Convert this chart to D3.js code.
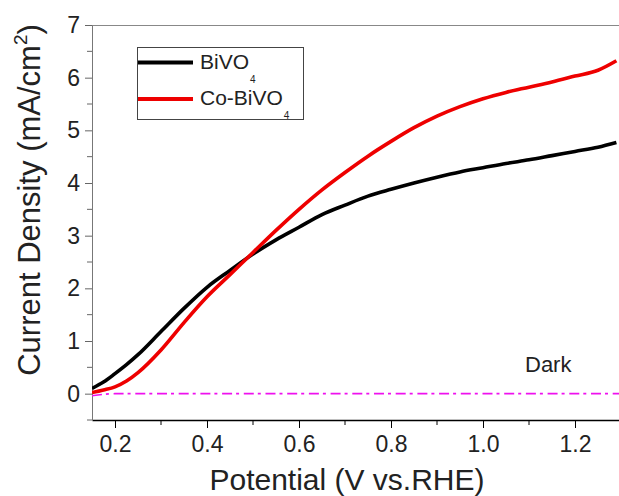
<!DOCTYPE html>
<html>
<head>
<meta charset="utf-8">
<script src="https://cdnjs.cloudflare.com/ajax/libs/d3/7.9.0/d3.min.js"></script>
<style>
  html, body { margin: 0; padding: 0; background: #fff; }
  svg { display: block; font-family: 'Liberation Sans', Arial, sans-serif; }
</style>
</head>
<body>
<svg id="chart" width="619" height="496"></svg>
<script>
// potential (V vs. RHE)
const potential = [0.15, 0.175, 0.2, 0.225, 0.25, 0.3, 0.35, 0.4, 0.45, 0.5, 0.55, 0.6, 0.65,
  0.7, 0.75, 0.8, 0.85, 0.9, 0.95, 1.0, 1.05, 1.1, 1.15, 1.2, 1.25, 1.29];
// current density (mA/cm2)
const bivo4 = [0.10, 0.22, 0.38, 0.55, 0.74, 1.18, 1.62, 2.02, 2.34, 2.65, 2.92, 3.16, 3.40,
  3.58, 3.75, 3.88, 4.00, 4.11, 4.21, 4.29, 4.37, 4.44, 4.52, 4.60, 4.68, 4.77];
const coBivo4 = [0.02, 0.07, 0.13, 0.24, 0.40, 0.83, 1.35, 1.84, 2.26, 2.68, 3.10, 3.50, 3.87,
  4.20, 4.51, 4.79, 5.05, 5.27, 5.45, 5.60, 5.72, 5.82, 5.92, 6.03, 6.14, 6.32];
const darkX = [0.15, 0.2, 1.3];
const darkY = [-0.04, 0, 0];

const xTicks = [0.2, 0.4, 0.6, 0.8, 1.0, 1.2];
const xMinor = [0.3, 0.5, 0.7, 0.9, 1.1];
const yTicks = [0, 1, 2, 3, 4, 5, 6, 7];
const yMinor = [-0.5, 0.5, 1.5, 2.5, 3.5, 4.5, 5.5, 6.5];

const L = 92, T = 25, R = 621, B = 420;

const svg = d3.select('#chart');
const x = d3.scaleLinear().domain([0.15, 1.3]).range([L, R]);
const y = d3.scaleLinear().domain([-0.5, 7]).range([B, T]);

svg.append('defs').append('clipPath').attr('id', 'plot')
  .append('rect').attr('x', L).attr('y', T).attr('width', R - L).attr('height', B - T);

// top frame line
svg.append('line').attr('x1', L).attr('x2', R).attr('y1', T + 0.5).attr('y2', T + 0.5)
  .attr('stroke', '#888').attr('stroke-width', 1);

// x axis
const xAxis = svg.append('g').attr('transform', `translate(0,${B})`)
  .call(d3.axisBottom(x).tickValues(xTicks).tickFormat(d3.format('.1f')).tickSize(8).tickSizeOuter(0));
xAxis.append('g').selectAll('line').data(xMinor).join('line')
  .attr('x1', d => x(d)).attr('x2', d => x(d)).attr('y1', 0).attr('y2', 5)
  .attr('stroke', '#000');
xAxis.selectAll('text').attr('font-size', 23).attr('fill', '#222').attr('dy', '0.9em')
  .style('font-family', "'Liberation Sans', Arial, sans-serif");
xAxis.select('.domain').attr('stroke', '#000').attr('stroke-width', 1.3);

// y axis
const yAxis = svg.append('g').attr('transform', `translate(${L},0)`)
  .call(d3.axisLeft(y).tickValues(yTicks).tickSize(7).tickSizeOuter(0).tickPadding(5));
yAxis.append('g').selectAll('line').data(yMinor).join('line')
  .attr('x1', -5).attr('x2', 0).attr('y1', d => y(d)).attr('y2', d => y(d))
  .attr('stroke', '#666');
yAxis.selectAll('.tick line').attr('stroke', '#666');
yAxis.select('.domain').attr('stroke', '#777');
yAxis.selectAll('text').attr('font-size', 23).attr('fill', '#222')
  .style('font-family', "'Liberation Sans', Arial, sans-serif");

// curves
const plot = svg.append('g').attr('clip-path', 'url(#plot)');
const line = d3.line().x(d => x(d[0])).y(d => y(d[1])).curve(d3.curveMonotoneX);

plot.append('path').datum(d3.zip(darkX, darkY)).attr('d', line)
  .attr('fill', 'none').attr('stroke', '#EE11EE').attr('stroke-width', 1.6)
  .attr('stroke-dasharray', '10 4 3 4.7');
plot.append('path').datum(d3.zip(potential, bivo4)).attr('d', line)
  .attr('fill', 'none').attr('stroke', '#000').attr('stroke-width', 3.6);
plot.append('path').datum(d3.zip(potential, coBivo4)).attr('d', line)
  .attr('fill', 'none').attr('stroke', '#EE0000').attr('stroke-width', 3.6);

// legend
const leg = svg.append('g');
leg.append('rect').attr('x', 137.5).attr('y', 47.5).attr('width', 166).attr('height', 72)
  .attr('fill', '#fff').attr('stroke', '#444').attr('stroke-width', 1);
const legItems = [{ name: 'Co-BiVO', color: '#EE0000', yy: 99 }, { name: 'BiVO', color: '#000', yy: 62.5 }];
legItems.forEach(it => {
  leg.append('line').attr('x1', 138).attr('x2', 193).attr('y1', it.yy).attr('y2', it.yy)
    .attr('stroke', it.color).attr('stroke-width', 4);
  const t = leg.append('text').attr('x', 200).attr('y', it.yy + 6).attr('font-size', 21).attr('fill', '#222');
  t.append('tspan').text(it.name);
  t.append('tspan').attr('font-size', 10).attr('dx', 1).attr('dy', 14).text('4');
});

// Dark label
svg.append('text').attr('x', 525).attr('y', 372).attr('font-size', 22).attr('fill', '#222').text('Dark');

// axis titles
svg.append('text').attr('x', 347).attr('y', 490).attr('text-anchor', 'middle')
  .attr('font-size', 30).attr('fill', '#222').text('Potential (V vs.RHE)');

const yt = svg.append('text').attr('transform', 'translate(40,200) rotate(-90)')
  .attr('text-anchor', 'middle').attr('font-size', 31).attr('fill', '#222');
yt.append('tspan').text('Current Density (mA/cm');
yt.append('tspan').attr('font-size', 19).attr('dy', -13).text('2');
yt.append('tspan').attr('dy', 13).text(')');
</script>
</body>
</html>
